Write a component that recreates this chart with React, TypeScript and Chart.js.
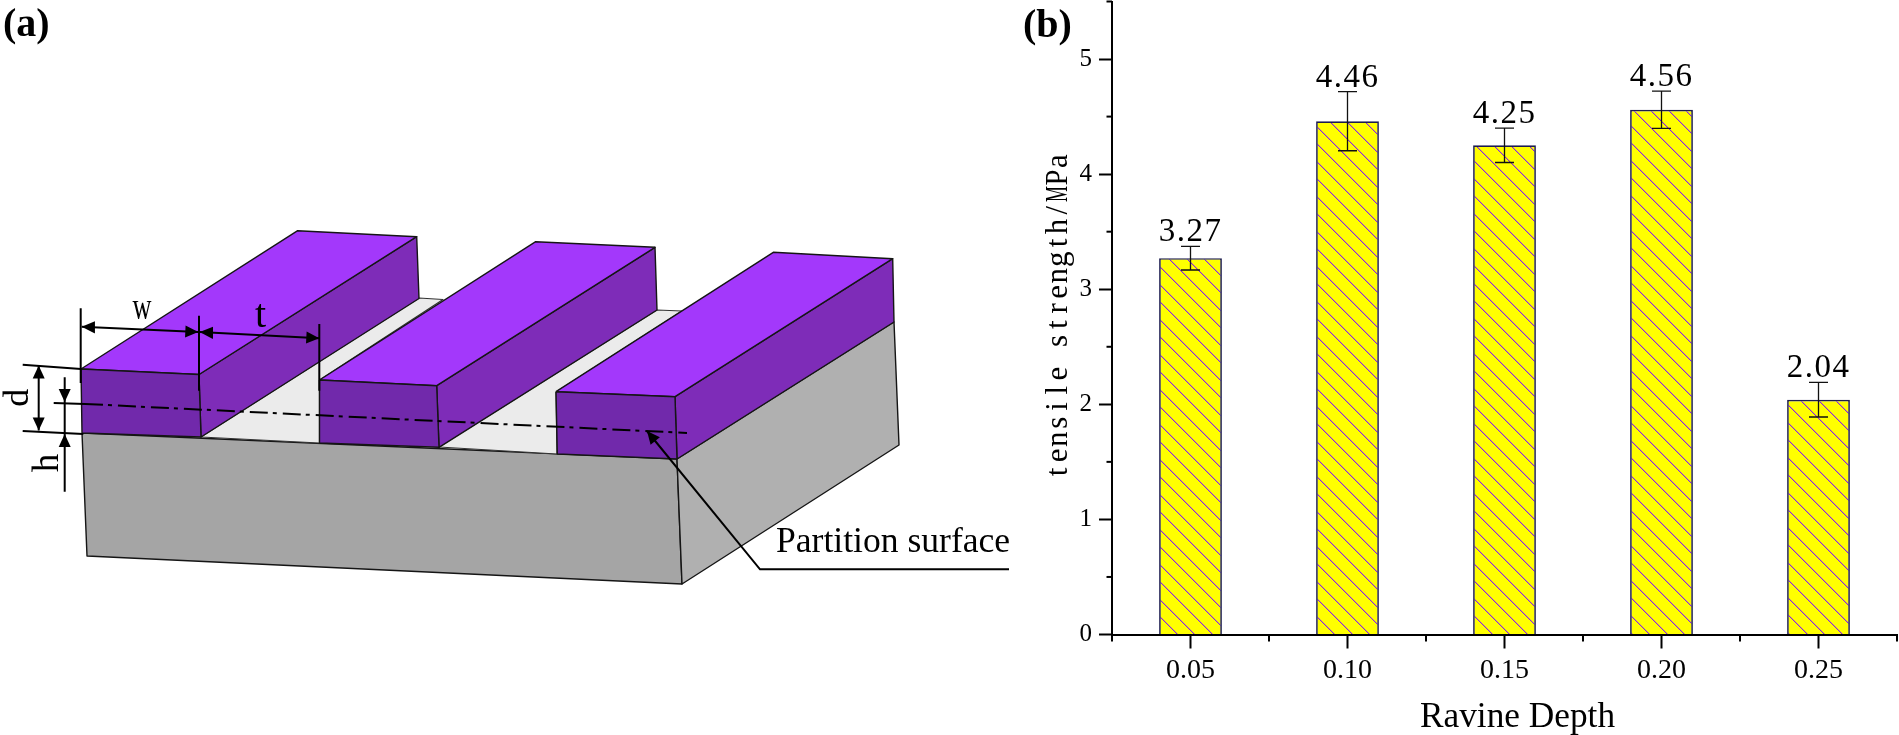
import { useEffect, useRef } from 'react';
import { Chart, registerables, Plugin } from 'chart.js';

Chart.register(...registerables);

type Pt = [number, number];

// panel (b) values
const categories = ['0.05', '0.10', '0.15', '0.20', '0.25'];
const strengths = [3.27, 4.46, 4.25, 4.56, 2.04];
const strengthErrors = [0.103, 0.257, 0.149, 0.162, 0.15];
const valueLabels = ['3.27', '4.46', '4.25', '4.56', '2.04'];
const yTitle = 'tensile strength/MPa';

// panel (a) outlines, in image pixels
const baseFront: Pt[] = [[82, 433], [87, 556], [682, 584], [677, 459]];
const baseSide: Pt[] = [[677, 459], [682, 584], [899, 445], [894, 322]];
const floorLeft: Pt[] = [[201, 437], [419, 298], [443, 299.5], [319.5, 380], [319.5, 443]];
const floorRight: Pt[] = [[439, 447], [657, 310], [682, 311], [556, 392], [557, 454]];

const bar1Top: Pt[] = [[81, 369], [199, 374.5], [416.7, 236.7], [297.7, 230.7]];
const bar1Front: Pt[] = [[81, 369], [199, 374.5], [201, 437], [82, 433]];
const bar1Side: Pt[] = [[199, 374.5], [416.7, 236.7], [419, 298.5], [201, 437]];
const bar2Top: Pt[] = [[319.5, 380], [436.7, 385.7], [655, 247.3], [535.7, 241.7]];
const bar2Front: Pt[] = [[319.5, 380], [436.7, 385.7], [439, 447.3], [319.5, 443]];
const bar2Side: Pt[] = [[436.7, 385.7], [655, 247.3], [657, 310], [439, 447.3]];
const bar3Top: Pt[] = [[556, 391.7], [675, 396.7], [892.7, 258.7], [773.3, 252.3]];
const bar3Front: Pt[] = [[556, 391.7], [675, 396.7], [677, 459], [557.3, 454]];
const bar3Side: Pt[] = [[675, 396.7], [892.7, 258.7], [894, 322], [677, 459]];

const dimensionLines: Pt[][] = [
  [[80.7, 308.3], [80.7, 383]],
  [[199, 315.7], [199, 390.7]],
  [[319.3, 324], [319.3, 390.7]],
  [[22.7, 364.7], [81, 369]],
  [[22.7, 431], [83.3, 434]],
  [[53.7, 403], [85, 404]],
  [[64.7, 377.3], [64.7, 491.7]],
  [[81.7, 326.7], [198.3, 332]],
  [[199.7, 332], [319.3, 338.3]],
  [[38.7, 365.5], [38.7, 430.5]],
];
// [tip, point it comes from]
const arrowHeads: Pt[][] = [
  [[81.7, 326.7], [198.3, 332]],
  [[198.3, 332], [81.7, 326.7]],
  [[199.7, 332], [319.3, 338.3]],
  [[319.3, 338.3], [199.7, 332]],
  [[38.7, 365.5], [38.7, 430.5]],
  [[38.7, 430.5], [38.7, 365.5]],
  [[64.7, 402], [64.7, 377.3]],
  [[64.7, 434], [64.7, 491.7]],
  [[647, 431], [760, 569.3]],
];
const partitionLine: Pt[] = [[85, 404], [687, 433]];
const leaderLine: Pt[] = [[647, 431], [760, 569.3], [1009, 569.3]];

const FONT = '"Liberation Serif", serif';

// staircase hatch, no smoothing, like the exported bitmap
function makeHatch(): CanvasPattern | string {
  const tile = document.createElement('canvas');
  tile.width = 70;
  tile.height = 70;
  const g = tile.getContext('2d');
  if (!g) return '#ffff00';
  g.fillStyle = '#ffff00';
  g.fillRect(0, 0, 70, 70);
  for (let k = 0; k < 70; k += 17.5) {
    for (let row = 0; row < 70; row++) {
      const col = Math.round(k + row) % 70;
      g.fillStyle = '#8a22e6';
      g.fillRect(col, row, 1, 1);
      g.fillStyle = 'rgba(138, 34, 230, 0.3)';
      g.fillRect((col + 1) % 70, row, 1, 1);
    }
  }
  return g.createPattern(tile, 'repeat') ?? '#ffff00';
}

function headPoints([tip, from]: Pt[]): Pt[] {
  const dx = from[0] - tip[0];
  const dy = from[1] - tip[1];
  const d = Math.hypot(dx, dy);
  const ux = dx / d;
  const uy = dy / d;
  const len = 13;
  const half = 6;
  return [
    tip,
    [tip[0] + ux * len - uy * half, tip[1] + uy * len + ux * half],
    [tip[0] + ux * len + uy * half, tip[1] + uy * len - ux * half],
  ];
}

function shape(points: Pt[], fill: string, border = '#151515', width = 1.4) {
  return {
    data: [...points, points[0]],
    showLine: true,
    fill: 'shape' as const,
    backgroundColor: fill,
    borderColor: border,
    borderWidth: width,
    pointRadius: 0,
    borderJoinStyle: 'round' as const,
  };
}

function line(points: Pt[], width = 2, dash: number[] = []) {
  return {
    data: points,
    showLine: true,
    fill: false,
    borderColor: '#000000',
    borderWidth: width,
    borderDash: dash,
    pointRadius: 0,
  };
}

function putText(
  ctx: CanvasRenderingContext2D,
  text: string,
  x: number,
  y: number,
  font: string,
  opts: { align?: CanvasTextAlign; rotate?: number; spacing?: string; maxWidth?: number } = {},
) {
  ctx.save();
  ctx.translate(x, y);
  if (opts.rotate) ctx.rotate(opts.rotate);
  ctx.font = font;
  ctx.fillStyle = '#000000';
  ctx.textAlign = opts.align ?? 'left';
  ctx.textBaseline = 'alphabetic';
  if (opts.spacing) (ctx as any).letterSpacing = opts.spacing;
  if (opts.maxWidth) ctx.fillText(text, 0, 0, opts.maxWidth);
  else ctx.fillText(text, 0, 0);
  ctx.restore();
}

const schematicText: Plugin<'scatter'> = {
  id: 'schematicText',
  afterDatasetsDraw(chart) {
    const { ctx } = chart;
    const px = (v: number) => chart.scales.x.getPixelForValue(v);
    const py = (v: number) => chart.scales.y.getPixelForValue(v);
    putText(ctx, '(a)', px(3), py(36), `bold 40px ${FONT}`);
    putText(ctx, 'w', px(132.5), py(318.5), `37px ${FONT}`, { maxWidth: 19 });
    putText(ctx, 't', px(255), py(326.7), `40px ${FONT}`);
    putText(ctx, 'd', px(28), py(397.7), `36px ${FONT}`, { align: 'center', rotate: -Math.PI / 2 });
    putText(ctx, 'h', px(58), py(463), `37px ${FONT}`, { align: 'center', rotate: -Math.PI / 2 });
    putText(ctx, 'Partition surface', px(776), py(551.7), `35.6px ${FONT}`);
  },
};

// minor ticks, error bars, the labels above them and the fixed-pitch axis title
const barDecorations: Plugin<'bar'> = {
  id: 'barDecorations',
  afterDatasetsDraw(chart) {
    const { ctx } = chart;
    const x = chart.scales.x;
    const y = chart.scales.y;
    ctx.save();
    ctx.strokeStyle = '#000000';
    ctx.lineWidth = 2;
    y.ticks.forEach((t) => {
      if (Number.isInteger(t.value)) return;
      const p = y.getPixelForValue(t.value);
      ctx.beginPath();
      ctx.moveTo(x.left, p);
      ctx.lineTo(x.left - 5.5, p);
      ctx.stroke();
    });
    const step = x.getPixelForValue(1) - x.getPixelForValue(0);
    for (let i = 0; i <= categories.length; i++) {
      const p = x.getPixelForValue(0) + (i - 0.5) * step;
      ctx.beginPath();
      ctx.moveTo(p, y.bottom);
      ctx.lineTo(p, y.bottom + 7);
      ctx.stroke();
    }
    ctx.lineWidth = 1.3;
    ctx.strokeStyle = '#111111';
    strengths.forEach((v, i) => {
      const cx = x.getPixelForValue(i);
      const top = y.getPixelForValue(v + strengthErrors[i]);
      const bottom = y.getPixelForValue(v - strengthErrors[i]);
      ctx.beginPath();
      ctx.moveTo(cx, top);
      ctx.lineTo(cx, bottom);
      ctx.moveTo(cx - 9.5, top);
      ctx.lineTo(cx + 9.5, top);
      ctx.moveTo(cx - 9.5, bottom);
      ctx.lineTo(cx + 9.5, bottom);
      ctx.stroke();
      putText(ctx, valueLabels[i], cx, top - 5, `33px ${FONT}`, { align: 'center', spacing: '1.5px' });
    });
    ctx.restore();
    putText(ctx, 'Ravine Depth', x.getPixelForValue(2) + 13, 726.7, `35.3px ${FONT}`, { align: 'center' });
    putText(ctx, '(b)', 8, 37, `bold 40px ${FONT}`);
    // half-width glyph cells, the original uses a fixed-pitch serif
    const cell = 16.35;
    const startY = y.getPixelForValue(0) - 154.5;
    yTitle.split('').forEach((ch, i) => {
      putText(ctx, ch, 52, startY - cell * (i + 0.5), `31px ${FONT}`, {
        align: 'center',
        rotate: -Math.PI / 2,
        maxWidth: 16,
      });
    });
  },
};

export default function App() {
  const leftRef = useRef<HTMLCanvasElement>(null);
  const rightRef = useRef<HTMLCanvasElement>(null);

  useEffect(() => {
    if (!leftRef.current || !rightRef.current) return;

    const TOP = '#a338fb';
    const FRONT = '#7129ab';
    const SIDE = '#7e2cb8';
    // first in the list is drawn last, so the back-to-front list gets reversed
    const layers = [
      shape(baseFront, '#a5a5a5'),
      shape(baseSide, '#b0b0b0'),
      shape(floorLeft, '#ebebeb', '#333333', 1.2),
      shape(floorRight, '#ebebeb', '#333333', 1.2),
      shape(bar1Side, SIDE),
      shape(bar1Top, TOP),
      shape(bar1Front, FRONT),
      shape(bar2Side, SIDE),
      shape(bar2Top, TOP),
      shape(bar2Front, FRONT),
      shape(bar3Side, SIDE),
      shape(bar3Top, TOP),
      shape(bar3Front, FRONT),
      ...dimensionLines.map((l) => line(l)),
      line(partitionLine, 2, [18, 5, 4, 6]),
      line(leaderLine, 2),
      ...arrowHeads.map((a) => shape(headPoints(a), '#000000', '#000000', 0)),
    ].reverse();

    const schematic = new Chart(leftRef.current, {
      type: 'scatter',
      data: { datasets: layers as any },
      options: {
        responsive: false,
        animation: false,
        events: [],
        layout: { padding: 0 },
        scales: {
          x: { type: 'linear', display: false, min: 0, max: 1015 },
          y: { type: 'linear', display: false, min: 0, max: 735, reverse: true },
        },
        plugins: { legend: { display: false }, tooltip: { enabled: false } },
      },
      plugins: [schematicText],
    });

    const bars = new Chart(rightRef.current, {
      type: 'bar',
      data: {
        labels: categories,
        datasets: [
          {
            data: strengths,
            backgroundColor: makeHatch() as any,
            borderColor: '#1c1c50',
            borderWidth: 1.7,
            categoryPercentage: 1,
            barPercentage: 0.4,
          },
        ],
      },
      options: {
        responsive: false,
        animation: false,
        events: [],
        layout: { padding: { top: 1.5, right: 2, bottom: 0, left: 0 } },
        scales: {
          x: {
            afterFit: (s) => {
              s.height = 100.5;
              s.paddingLeft = 0;
              s.paddingRight = 0;
            },
            border: { color: '#000000', width: 2 },
            grid: {
              offset: false,
              drawOnChartArea: false,
              drawTicks: true,
              tickLength: 14,
              tickColor: '#000000',
              tickWidth: 2,
            },
            ticks: {
              color: '#000000',
              font: { family: FONT, size: 28 },
              padding: 5,
              maxRotation: 0,
            },
          },
          y: {
            min: 0,
            max: 5.5,
            afterFit: (s) => {
              s.width = 97;
              s.paddingTop = 0;
              s.paddingBottom = 0;
            },
            border: { color: '#000000', width: 2 },
            grid: {
              drawOnChartArea: false,
              tickLength: 13,
              tickWidth: 2,
              tickColor: (c) => (Number.isInteger(c.tick.value) ? '#000000' : 'transparent'),
            },
            ticks: {
              stepSize: 0.5,
              autoSkip: false,
              color: '#000000',
              padding: 7,
              font: { family: FONT, size: 25 },
              callback: (v) => (Number.isInteger(Number(v)) ? String(v) : ''),
            },
          },
        },
        plugins: { legend: { display: false }, tooltip: { enabled: false } },
      },
      plugins: [barDecorations],
    });

    return () => {
      schematic.destroy();
      bars.destroy();
    };
  }, []);

  return (
    <div style={{ position: 'absolute', left: 0, top: 0, width: 1899, height: 735, background: '#ffffff' }}>
      <canvas ref={leftRef} width={1015} height={735} style={{ position: 'absolute', left: 0, top: 0 }} />
      <canvas ref={rightRef} width={884} height={735} style={{ position: 'absolute', left: 1015, top: 0 }} />
    </div>
  );
}
